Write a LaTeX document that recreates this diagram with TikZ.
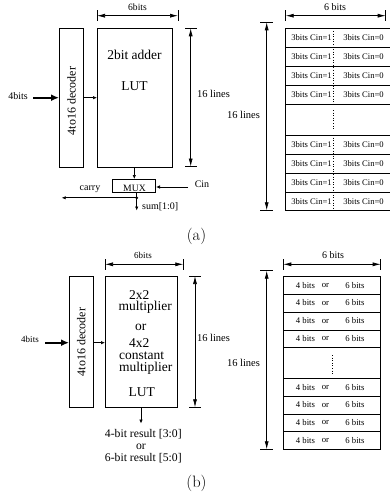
\documentclass[tikz,border=0pt]{standalone}
\usepackage{fontspec}
\newfontfamily\tms{Liberation Serif}
\usetikzlibrary{arrows.meta}
\begin{document}
\begin{tikzpicture}[x=1pt,y=-1pt,
  box/.style={draw, line width=0.8pt, inner sep=0, anchor=north west},
  lbl/.style={font=\tms\fontsize{#1}{#1}\selectfont, inner sep=0},
  lbl/.default=10,
  lut/.style={font=\tms\fontsize{13.5}{13.5}\selectfont, inner sep=0, anchor=base, text height=7pt, text depth=1pt},
  captxt/.style={font=\fontsize{16.5}{16.5}\selectfont, inner sep=0},
  dimline/.style={{Latex[length=8pt,width=4pt]}-{Latex[length=8pt,width=4pt]}, line width=0.7pt},
  tickline/.style={line width=0.7pt},
  smallarr/.style={-{Latex[length=4pt,width=3.5pt]}, line width=0.7pt},
  fatarr/.style={-{Latex[length=8pt,width=7pt]}, line width=2pt},
  rowline/.style={line width=0.8pt},
  divline/.style={dotted, line width=0.6pt}
]
\useasboundingbox (0,0) rectangle (390,499);

%% ================= (a) left =================
\node[box, minimum width=24pt, minimum height=139pt] (deca) at (59,28) {};
\node[lbl=12, rotate=90] (decta) at ([yshift=-3pt]deca.center) {4to16 decoder};
\node[box, minimum width=75pt, minimum height=139pt] (luta) at (97,28) {};
\node[lbl=13.5] (adder) at (134.5,55) {2bit adder};
\node[lbl=13.5] (luttxta) at (134.5,86) {LUT};

% 6bits dimension
\coordinate (wa1) at (97,15.7); \coordinate (wa2) at (178,15.7);
\draw[tickline] (97,10) -- (97,21) (178,10) -- (178,21);
\draw[dimline] (wa1) -- (wa2);
\node[lbl=9.6] (sixa) at (137.5,7) {6bits};

% 16 lines dimension
\coordinate (ha1) at (190.7,28.3); \coordinate (ha2) at (190.7,166.5);
\draw[tickline] (185,28.3) -- (197,28.3) (185,166.5) -- (197,166.5);
\draw[dimline] (ha1) -- (ha2);
\node[lbl=10.5] (linesa) at (213.5,94) {16 lines};

% inputs
\coordinate (ina) at (33,97.7);
\node[lbl=10] (fourbitsa) at (18,96) {4bits};
\draw[fatarr] (ina) -- (deca.west |- ina);
\draw[smallarr] (deca.east |- ina) -- (luta.west |- ina);

% MUX
\node[box, minimum width=43.5pt, minimum height=12.7pt] (mux) at (111.7,179) {};
\node[lbl=9.7, anchor=base] (muxt) at (134.5,191.4) {MUX};
\coordinate (lutaout) at (134.3,167);
\draw[smallarr] (lutaout) -- (lutaout |- mux.north);
\coordinate (cin) at (188,187);
\draw[smallarr] (cin) -- (mux.east |- cin);
\node[lbl=10] (cinl) at (202,184) {Cin};
\coordinate (dot) at (136.7,197.8);
\coordinate (carryend) at (61.7,197.8);
\coordinate (sumend) at (136.7,210.5);
\draw[line width=0.7pt] (mux.south -| dot) -- (dot);
\fill (dot) circle (1.6pt);
\draw[smallarr] (dot) -- (carryend);
\draw[smallarr] (dot) -- (sumend);
\node[lbl=10] (carryl) at (90,189.5) {carry};
\node[lbl=10, anchor=west] (suml) at (142,207) {sum[1:0]};

\node[captxt] (capa) at (196.5,236) {(a)};

%% ================= (a) right table =================
\foreach \yy in {28.3,47.3,66.2,85.2,104.1,135,154,173.2,192,210.8}
  \draw[rowline] (285.7,\yy) -- (390,\yy);
\draw[rowline] (285.7,28.3) -- (285.7,210.8);
\draw[divline] (333.3,28.3) -- (333.3,104.1);
\draw[divline] (333.3,110) -- (333.3,129);
\draw[divline] (333.3,135) -- (333.3,210.8);
\foreach \yy in {37.8,56.75,75.7,94.65,144.5,163.6,182.6,201.4}{
  \node[lbl=8.6] at (311.5,\yy) {3bits Cin=1};
  \node[lbl=8.6] at (363.5,\yy) {3bits Cin=0};
}
\coordinate (wr1) at (285.7,15.7); \coordinate (wr2) at (385.7,15.7);
\draw[tickline] (285.7,10) -- (285.7,21) (385.7,10) -- (385.7,21);
\draw[dimline] (wr1) -- (wr2);
\node[lbl=10] (sixra) at (335,7) {6 bits};
\coordinate (hr1) at (266.7,22.3); \coordinate (hr2) at (266.7,210.3);
\draw[tickline] (260,22.3) -- (273,22.3) (260,210.3) -- (273,210.3);
\draw[dimline] (hr1) -- (hr2);
\node[lbl=10.5] (linesra) at (243.5,115) {16 lines};

%% ================= (b) left =================
\node[box, minimum width=23.7pt, minimum height=131.3pt] (decb) at (69,276) {};
\node[lbl=12, rotate=90] (dectb) at (decb.center) {4to16 decoder};
\node[box, minimum width=71.7pt, minimum height=131.3pt] (lutb) at (105,276) {};
\node[lut] (t1) at (139.2,299.5) {2x2};
\node[lut] (t2) at (145.3,310.8) {multiplier};
\node[lut] (t3) at (140.8,330) {or};
\node[lut] (t4) at (139.2,347.8) {4x2};
\node[lut] (t5) at (141.7,359.6) {constant};
\node[lut] (t6) at (145.8,371.2) {multiplier};
\node[lut] (t7) at (141.7,396.7) {LUT};

\coordinate (wb1) at (105,264.3); \coordinate (wb2) at (183.3,264.3);
\draw[tickline] (105,259) -- (105,270) (183.3,259) -- (183.3,270);
\draw[dimline] (wb1) -- (wb2);
\node[lbl=9] (sixb) at (143,255) {6bits};

\coordinate (hb1) at (195,276); \coordinate (hb2) at (195,407.3);
\draw[tickline] (189,276) -- (201,276) (189,407.3) -- (201,407.3);
\draw[dimline] (hb1) -- (hb2);
\node[lbl=10.5] (linesb) at (213.5,338) {16 lines};

\coordinate (inb) at (45,342.7);
\node[lbl=9] (fourbitsb) at (30,339) {4bits};
\draw[fatarr] (inb) -- (decb.west |- inb);
\draw[smallarr] (decb.east |- inb) -- (lutb.west |- inb);

\coordinate (outb) at (141,423.5);
\draw[smallarr] (lutb.south -| outb) -- (outb);
\node[lbl=11.7, anchor=base] (r1) at (143.3,437) {4-bit result [3:0]};
\node[lbl=11.7, anchor=base] (r2) at (141,449.5) {or};
\node[lbl=11.7, anchor=base] (r3) at (143.3,461) {6-bit result [5:0]};

\node[captxt] (capb) at (196.5,483) {(b)};

%% ================= (b) right table =================
\draw[rowline] (283.3,276.7) rectangle (380.7,449.3);
\foreach \yy in {294,312,330,347.7,378.3,396,414,431.7}
  \draw[rowline] (283.3,\yy) -- (380.7,\yy);
\draw[divline] (332.7,355) -- (332.7,374);
\foreach \yy in {285.35,303,321,338.85,387.15,405,422.85,440.5}{
  \node[lbl=8.7] at (305.5,\yy) {4 bits};
  \node[lbl=8.7] at (325.5,\yy) {or};
  \node[lbl=8.7] at (355,\yy) {6 bits};
}
\coordinate (wrb1) at (283.3,264.3); \coordinate (wrb2) at (380.7,264.3);
\draw[tickline] (283.3,259) -- (283.3,270) (380.7,259) -- (380.7,270);
\draw[dimline] (wrb1) -- (wrb2);
\node[lbl=10] (sixrb) at (333,255) {6 bits};
\coordinate (hrb1) at (266.7,270.7); \coordinate (hrb2) at (266.7,449.3);
\draw[tickline] (260,270.7) -- (273,270.7) (260,449.3) -- (273,449.3);
\draw[dimline] (hrb1) -- (hrb2);
\node[lbl=10.5] (linesrb) at (243.5,363) {16 lines};
\end{tikzpicture}
\end{document}
